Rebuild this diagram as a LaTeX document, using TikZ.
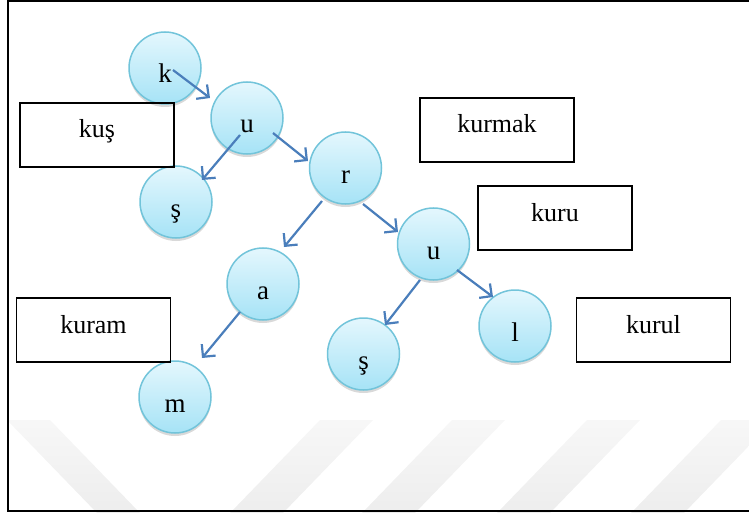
\documentclass[tikz,border=0pt]{standalone}
\usepackage{fontspec}
\setmainfont{Liberation Serif}
\usetikzlibrary{arrows.meta,shadows}
\definecolor{linkblue}{HTML}{4A7EBB}
\definecolor{balltop}{HTML}{E4F7FD}
\definecolor{ballbottom}{HTML}{A6E3F6}
\definecolor{balledge}{HTML}{72C4DA}

\begin{document}
\begin{tikzpicture}[x=1pt,y=-1pt,
  letter/.style={circle,minimum size=72pt,inner sep=0pt,text height=30pt,text depth=0pt,
    top color=balltop,bottom color=ballbottom,draw=balledge,line width=1.5pt,
    drop shadow={opacity=0.3,shadow xshift=0pt,shadow yshift=-3pt},
    font=\fontsize{27}{30}\selectfont},
  word/.style={draw,line width=1.3pt,minimum width=154pt,minimum height=64pt,inner sep=0pt,
    text height=14pt,text depth=8pt,font=\fontsize{26}{30}\selectfont},
  link/.style={draw=linkblue,line width=2.2pt,-{Straight Barb[length=9pt,width=18pt]}},
  band/.style={top color=black!3,bottom color=black!7,draw=none}]

\useasboundingbox (0,0) rectangle (749,513) ;

%watermark
\path [band] (7,420) -- (50,420) -- (140,513) -- (97,513) -- cycle ;
\foreach \wx in {320,452,587,721}
  \path [band] (\wx,420) -- (\wx+53,420) -- (\wx-37,513) -- (\wx-90,513) -- cycle ;

%frame
\draw [line width=2.5pt] (752,1) -- (8,1) -- (8,511) -- (752,511) ;

%letters
\node [letter] (k) at (165,68) {k} ;
\node [letter] (u1) at (247,118) {u} ;
\node [letter] (s1) at (176,202) {ş} ;
\node [letter] (r) at (345.5,168) {r} ;
\node [letter] (a) at (263,284) {a} ;
\node [letter] (m) at (175,397) {m} ;
\node [letter] (u2) at (433.5,244) {u} ;
\node [letter] (s2) at (363.5,354) {ş} ;
\node [letter] (l) at (515,326) {l} ;

%words
\node [word] (kus) at (97,135) {kuş} ;
\node [word] (kuram) at (93.5,330) {kuram} ;
\node [word] (kurmak) at (497,130) {kurmak} ;
\node [word] (kuru) at (555,218) {kuru} ;
\node [word] (kurul) at (653.5,330) {kurul} ;

%links
\draw [link] ([shift={(8,2)}]k.center) -- ([shift={(-37,-20)}]u1.center) ;
\draw [link] ([shift={(-7,17)}]u1.center) -- ([shift={(26,-22)}]s1.center) ;
\draw [link] ([shift={(26,15)}]u1.center) -- ([shift={(-37.5,-7)}]r.center) ;
\draw [link] ([shift={(-23.5,33)}]r.center) -- ([shift={(21,-37)}]a.center) ;
\draw [link] ([shift={(17.5,36)}]r.center) -- ([shift={(-35.5,-12)}]u2.center) ;
\draw [link] ([shift={(-13.5,36)}]u2.center) -- ([shift={(21.5,-29)}]s2.center) ;
\draw [link] ([shift={(23.5,26)}]u2.center) -- ([shift={(-22,-29)}]l.center) ;
\draw [link] ([shift={(-23,28)}]a.center) -- ([shift={(27,-39)}]m.center) ;

\end{tikzpicture}
\end{document}
